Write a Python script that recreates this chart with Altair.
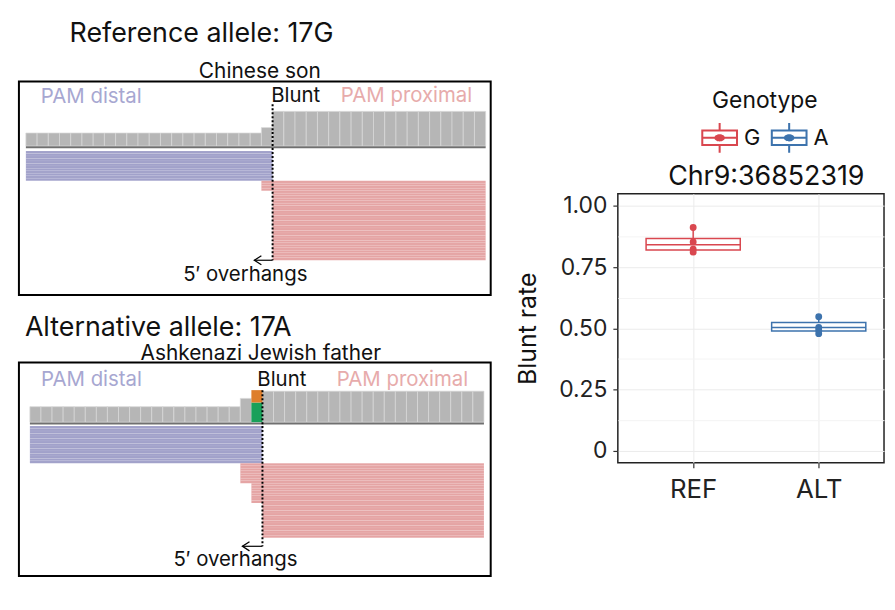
import altair as alt
import pandas as pd

FONT = "Inter"

# ---------------- IGV panel 1: reference allele 17G (Chinese son) ----------------
# coverage segments (base start, base end, read depth), bases relative to cut site
p1_cov_start = [-22, -1, 0]
p1_cov_end = [-1, 0, 19]
p1_cov_count = [12, 17, 32]
# read groups
p1_read_start = [-22, -1, 0]
p1_read_end = [0, 19, 19]
p1_read_rows = [12, 4, 28]
p1_read_side = ["distal", "proximal", "proximal"]

# ---------------- IGV panel 2: alternative allele 17A (Ashkenazi Jewish father) ----------------
p2_cov_start = [-21, -2, 0]
p2_cov_end = [-2, -1, 20]
p2_cov_count = [15, 23, 30]
p2_mm_base = [-1, -1]
p2_mm_allele = ["A", "G"]
p2_mm_count = [19, 12]
p2_read_start = [-21, -2, -1, 0]
p2_read_end = [0, 20, 20, 20]
p2_read_rows = [15, 8, 8, 14]
p2_read_side = ["distal", "proximal", "proximal", "proximal"]

# annotations
ann_text = ["PAM distal", "Blunt", "PAM proximal"]
ann_color = ["#a7a7d1", "#111111", "#e7abab"]
p1_ann_x = [-20.67, -0.12, 6.08]
p1_ann_row = [-21.6, -22.0, -22.0]
p2_ann_x = [-20.0, -0.46, 6.71]
p2_ann_row = [-18.4, -18.4, -18.4]
ovh_text = "5\u2032 overhangs"
p1_ovh = (-2.43, 50.0)
p2_ovh = (-2.43, 54.0)
p1_blunt = (-18.8, 44.0)
p2_blunt = (-14.4, 48.4)
p1_arrow_tip = -1.63
p2_arrow_tip = -1.81

# ---------------- Box plot ----------------
box_title = "Chr9:36852319"
box_alleles = ["REF", "ALT"]
box_geno = ["G", "A"]
box_q1 = [0.820, 0.489]
box_med = [0.841, 0.503]
box_q3 = [0.867, 0.524]
box_lo = [0.811, 0.478]
box_hi = [0.912, 0.547]
pt_allele = ["REF", "REF", "REF", "REF", "ALT", "ALT", "ALT", "ALT"]
pt_geno = ["G", "G", "G", "G", "A", "A", "A", "A"]
pt_value = [0.912, 0.853, 0.823, 0.811, 0.547, 0.503, 0.492, 0.478]

geno_colors = ["#d9474f", "#3d73ad"]
read_colors = {"distal": "#a1a1ca", "proximal": "#e5a4a4"}
mm_colors = {"A": "#19a05a", "G": "#de7e2c"}


def cov_table(starts, ends, counts):
    rows = []
    for s, e, c in zip(starts, ends, counts):
        for b in range(s, e):
            rows.append({"b0": b, "b1": b + 1, "count": c})
    return pd.DataFrame(rows)


def read_table(starts, ends, nrows, sides):
    rows = []
    r = 0
    for s, e, n, sd in zip(starts, ends, nrows, sides):
        for _ in range(n):
            rows.append({"x0": s, "x1": e, "r0": r, "r1": r + 1, "col": read_colors[sd]})
            r += 1
    return pd.DataFrame(rows)


def mm_table(bases, alleles, counts):
    rows = []
    acc = 0
    for b, a, c in zip(bases, alleles, counts):
        rows.append({"b0": b, "b1": b + 1, "y0": acc, "y1": acc + c, "col": mm_colors[a]})
        acc += c
    return pd.DataFrame(rows)


def panel(cov, reads, mm, ann_x, ann_row, ovh, blunt, tip, xdom, rdom, cdom, subtitle, sub_dx, sub_off):
    xs = alt.Scale(domain=xdom, nice=False, zero=False)
    rs = alt.Scale(domain=rdom, nice=False, zero=False, reverse=True)
    cs = alt.Scale(domain=cdom, nice=False, zero=False)

    layers = []
    layers.append(
        alt.Chart(cov).mark_rect(color="#b6b6b6", stroke="#d9d9d9", strokeWidth=0.7).encode(
            x=alt.X("b0:Q", scale=xs, axis=None), x2="b1:Q",
            y=alt.Y("count:Q", scale=cs, axis=None), y2=alt.datum(0))
    )
    base_df = pd.DataFrame({"x0": [cov["b0"].min()], "x1": [cov["b1"].max()]})
    layers.append(
        alt.Chart(base_df).mark_rule(color="#707070", strokeWidth=2).encode(
            x=alt.X("x0:Q", scale=xs, axis=None), x2="x1:Q",
            y=alt.YDatum(datum=-1.2, scale=cs, axis=None))
    )
    if mm is not None:
        layers.append(
            alt.Chart(mm).mark_rect().encode(
                x=alt.X("b0:Q", scale=xs, axis=None), x2="b1:Q",
                y=alt.Y("y1:Q", scale=cs, axis=None), y2="y0:Q",
                fill=alt.Fill("col:N", scale=None))
        )
    layers.append(
        alt.Chart(reads).mark_rect(stroke="white", strokeWidth=0.4, strokeOpacity=0.2).encode(
            x=alt.X("x0:Q", scale=xs, axis=None), x2="x1:Q",
            y=alt.Y("r0:Q", scale=rs, axis=None), y2="r1:Q",
            fill=alt.Fill("col:N", scale=None))
    )
    ann_df = pd.DataFrame({"x": ann_x, "r": ann_row, "t": ann_text, "c": ann_color})
    layers.append(
        alt.Chart(ann_df).mark_text(align="left", baseline="middle", fontSize=20.5).encode(
            x=alt.X("x:Q", scale=xs, axis=None), y=alt.Y("r:Q", scale=rs, axis=None),
            text="t:N", fill=alt.Fill("c:N", scale=None))
    )
    bl_df = pd.DataFrame({"x": [0], "r0": [blunt[0]], "r1": [blunt[1]]})
    layers.append(
        alt.Chart(bl_df).mark_rule(color="black", strokeWidth=2, strokeDash=[2, 2]).encode(
            x=alt.X("x:Q", scale=xs, axis=None),
            y=alt.Y("r0:Q", scale=rs, axis=None), y2="r1:Q")
    )
    ar_df = pd.DataFrame({"x0": [0], "x1": [tip], "r": [blunt[1]]})
    layers.append(
        alt.Chart(ar_df).mark_rule(color="black", strokeWidth=1.2).encode(
            x=alt.X("x0:Q", scale=xs, axis=None), x2="x1:Q",
            y=alt.Y("r:Q", scale=rs, axis=None))
    )
    layers.append(
        alt.Chart(ar_df).mark_point(shape="M1.7,-1.1L0,0L1.7,1.1", filled=False, color="black",
                                    strokeWidth=1.3, size=70, opacity=1).encode(
            x=alt.X("x1:Q", scale=xs, axis=None),
            y=alt.Y("r:Q", scale=rs, axis=None))
    )
    ov_df = pd.DataFrame({"x": [ovh[0]], "r": [ovh[1]], "t": [ovh_text]})
    layers.append(
        alt.Chart(ov_df).mark_text(align="center", baseline="middle", fontSize=20.5, color="#111111").encode(
            x=alt.X("x:Q", scale=xs, axis=None), y=alt.Y("r:Q", scale=rs, axis=None), text="t:N")
    )
    return alt.layer(*layers).resolve_scale(y="independent").properties(
        width=475, height=215,
        view=alt.ViewBackground(stroke="black", strokeWidth=2),
        title=alt.TitleParams(subtitle, fontSize=21, fontWeight="normal", anchor="middle",
                              offset=sub_off, dx=sub_dx, color="#111111"),
    )


panel1 = panel(cov_table(p1_cov_start, p1_cov_end, p1_cov_count),
               read_table(p1_read_start, p1_read_end, p1_read_rows, p1_read_side), None,
               p1_ann_x, p1_ann_row, p1_ovh, p1_blunt, p1_arrow_tip,
               [-22.62, 19.45], [-28, 58], [-137.6, 59.6], "Chinese son", 5, -1)
panel2 = panel(cov_table(p2_cov_start, p2_cov_end, p2_cov_count),
               read_table(p2_read_start, p2_read_end, p2_read_rows, p2_read_side),
               mm_table(p2_mm_base, p2_mm_allele, p2_mm_count),
               p2_ann_x, p2_ann_row, p2_ovh, p2_blunt, p2_arrow_tip,
               [-21.99, 20.61], [-25.6, 60.4], [-149.0, 57.7], "Ashkenazi Jewish father", 6, -1)

block1 = alt.vconcat(panel1, title=alt.TitleParams("Reference allele: 17G", anchor="start", fontSize=27,
                                                    fontWeight="normal", dx=52, offset=13, color="#111111"))
block2 = alt.vconcat(panel2, title=alt.TitleParams("Alternative allele: 17A", anchor="start", fontSize=27,
                                                    fontWeight="normal", dx=7, offset=0, color="#111111"))
left_col = alt.vconcat(block1, block2, spacing=18)

# ---------------- box plot ----------------
stats = pd.DataFrame({"allele": box_alleles, "geno": box_geno, "q1": box_q1, "med": box_med,
                      "q3": box_q3, "lo": box_lo, "hi": box_hi})
stats["pos"] = [box_alleles.index(a) + 1 for a in stats["allele"]]
stats["hex"] = [geno_colors[box_geno.index(g)] for g in stats["geno"]]
pts = pd.DataFrame({"allele": pt_allele, "geno": pt_geno, "value": pt_value})
pts["pos"] = [box_alleles.index(a) + 1 for a in pts["allele"]]

PLOT_W = 268
bx = alt.Scale(domain=[0.4, 2.52], nice=False, zero=False)
by = alt.Scale(domain=[-0.05, 1.05], nice=False, zero=False)
cscale = alt.Scale(domain=box_geno, range=geno_colors)

label_map = "[" + ",".join("'" + a + "'" for a in box_alleles) + "]"
x_axis = alt.Axis(values=[1, 2], labelExpr=label_map + "[datum.value - 1]", title=None,
                  grid=True, gridColor="#ebebeb", gridWidth=1, domain=False,
                  ticks=True, tickSize=5, tickColor="#333333", tickWidth=1.2,
                  labelFontSize=26, labelColor="#222222", labelPadding=9)
top_axis = alt.Axis(orient="top", title=box_title, titleFontSize=27, titleFontWeight="normal",
                    titleColor="#111111", titlePadding=3, titleX=PLOT_W / 2 + 15,
                    labels=False, ticks=False, domain=False, grid=False, minExtent=0)
minor_test = "abs(datum.value*4 - round(datum.value*4)) > 0.01"
y_axis = alt.Axis(values=[0, 0.125, 0.25, 0.375, 0.5, 0.625, 0.75, 0.875, 1.0],
                  labelExpr="(" + minor_test + ") ? '' : (datum.value == 0 ? '0' : format(datum.value, '.2f'))",
                  title="Blunt rate", titleFontSize=25, titleFontWeight="normal", titleColor="#111111",
                  titlePadding=18,
                  grid=True,
                  gridColor={"condition": {"test": minor_test, "value": "#f4f4f4"}, "value": "#ebebeb"},
                  domain=False, ticks=True, tickSize=5, tickWidth=1.2,
                  tickColor={"condition": {"test": minor_test, "value": "transparent"}, "value": "#333333"},
                  labelFontSize=23, labelColor="#222222", labelPadding=6)

GLYPH = ("M-1,-0.45H1V0.45H-1Z M-0.89,-0.34V0.34H0.89V-0.34Z "
         "M-0.89,-0.055H0.89V0.055H-0.89Z "
         "M-0.055,-0.81H0.055V-0.45H-0.055Z M-0.055,0.45H0.055V0.81H-0.055Z "
         "M-0.29,0A0.29,0.2 0 1,1 0.29,0A0.29,0.2 0 1,1 -0.29,0Z")

legend = alt.Legend(title="Genotype", orient="none", legendX=84, legendY=-104, direction="horizontal",
                    titleAnchor="middle", titleFontSize=23, titleFontWeight="normal", titleColor="#111111",
                    titlePadding=6, labelFontSize=22, labelColor="#111111", labelOffset=6,
                    columnPadding=10, symbolType=GLYPH, symbolSize=1369, symbolStrokeWidth=0,
                    symbolOpacity=1)

boxes = alt.Chart(stats).transform_calculate(
    xl="datum.pos - 0.375", xr="datum.pos + 0.375")
box_rect = boxes.mark_rect(fill="white", strokeWidth=1.5).encode(
    x=alt.X("xl:Q", scale=bx, axis=x_axis), x2="xr:Q",
    y=alt.Y("q1:Q", scale=by, axis=y_axis), y2="q3:Q",
    stroke=alt.Stroke("hex:N", scale=None))
box_med_l = boxes.mark_rule(strokeWidth=1.5).encode(
    x=alt.X("xl:Q", scale=bx, axis=None), x2="xr:Q",
    y=alt.Y("med:Q", scale=by, axis=y_axis),
    stroke=alt.Stroke("hex:N", scale=None))
wh_hi = alt.Chart(stats).mark_rule(strokeWidth=1.5).encode(
    x=alt.X("pos:Q", scale=bx, axis=None),
    y=alt.Y("q3:Q", scale=by, axis=y_axis), y2="hi:Q",
    stroke=alt.Stroke("hex:N", scale=None))
wh_lo = alt.Chart(stats).mark_rule(strokeWidth=1.5).encode(
    x=alt.X("pos:Q", scale=bx, axis=None),
    y=alt.Y("lo:Q", scale=by, axis=y_axis), y2="q1:Q",
    stroke=alt.Stroke("hex:N", scale=None))
points = alt.Chart(pts).mark_circle(size=48, opacity=1).encode(
    x=alt.X("pos:Q", scale=bx, axis=top_axis),
    y=alt.Y("value:Q", scale=by, axis=y_axis),
    color=alt.Color("geno:N", scale=cscale, legend=legend))

box_chart = alt.layer(box_rect, box_med_l, wh_hi, wh_lo, points).resolve_axis(x="independent").properties(
    width=PLOT_W, height=271,
    view=alt.ViewBackground(stroke="#222222", strokeWidth=1.5),
)

spacer = alt.Chart(pd.DataFrame({"v": [0]})).mark_point(opacity=0).encode(
    x=alt.value(0), y=alt.value(0)).properties(width=20, height=1)
right_col = alt.vconcat(spacer, box_chart, spacing=5).resolve_scale(
    color="independent").resolve_legend(color="independent")

chart = alt.hconcat(left_col, right_col, spacing=23).resolve_scale(
    color="independent").resolve_legend(color="independent").properties(
    padding={"left": 10, "top": 10, "right": 2, "bottom": 5}
).configure(font=FONT).configure_view(stroke=None).configure_title(font=FONT)

chart.save("out.html", embed_options={"renderer": "svg", "actions": False})
